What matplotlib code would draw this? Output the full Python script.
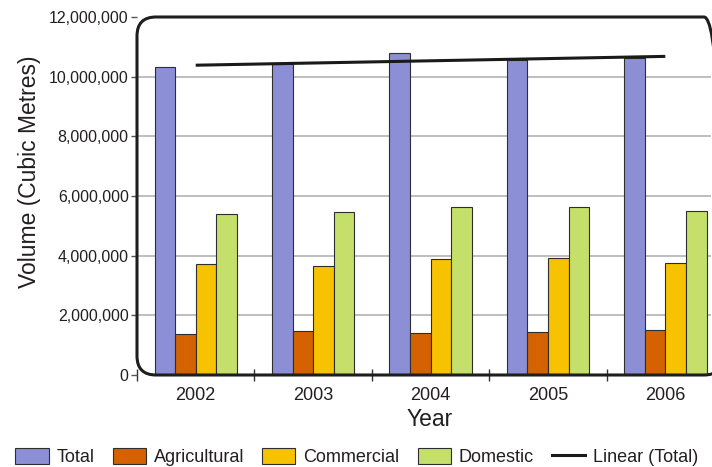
import numpy as np
import matplotlib
matplotlib.use('Agg')
import matplotlib.pyplot as plt
from matplotlib.patches import FancyBboxPatch, Patch
from matplotlib.lines import Line2D
from matplotlib.ticker import FuncFormatter

# ── water use by sector, cubic metres ────────────────────────────────────────
years        = ['2002', '2003', '2004', '2005', '2006']
total        = [10_310_000, 10_410_000, 10_780_000, 10_550_000, 10_610_000]
agricultural = [1_370_000, 1_460_000, 1_420_000, 1_440_000, 1_510_000]
commercial   = [3_710_000, 3_650_000, 3_880_000, 3_910_000, 3_760_000]
domestic     = [5_390_000, 5_470_000, 5_630_000, 5_640_000, 5_500_000]
series_names = ['Total', 'Agricultural', 'Commercial', 'Domestic']
y_ticks      = [0, 2_000_000, 4_000_000, 6_000_000, 8_000_000, 10_000_000, 12_000_000]

colors   = ['#8c8fd6', '#d46200', '#f7c200', '#c4df6a']
TEXT     = '#231f20'
BASE     = ['Liberation Sans', 'DejaVu Sans']

plt.rcParams['font.family'] = BASE

DPI = 100
fig = plt.figure(figsize=(7.12, 4.67), dpi=DPI)
W, H = 712, 467

# plot area in pixels: left 137, right 711, bottom 375, top 17
ax = fig.add_axes([137 / W, 92 / H, 574 / W, 358 / H])

group_px = 117.4
x = np.arange(len(years))
bar_w = 20.6 / group_px
offsets = (np.arange(4) - 1.5) * bar_w

for tick in y_ticks[1:-1]:
    ax.axhline(tick, color='#b3b3b3', lw=1.2, zorder=0)

for vals, off, col in zip([total, agricultural, commercial, domestic], offsets, colors):
    ax.bar(x + off, vals, width=bar_w, color=col, edgecolor='#2e2e2e',
           linewidth=0.8, zorder=2)

# linear trend through the totals
slope, intercept = np.polyfit(x, total, 1)
ax.plot(x, slope * x + intercept, color='#1a1a1a', lw=2.2, zorder=3,
        solid_capstyle='butt')

ax.set_xlim(-0.5, -0.5 + 574 / group_px)
ax.set_ylim(y_ticks[0], y_ticks[-1])
for s in ax.spines.values():
    s.set_visible(False)

ax.set_yticks(y_ticks)
ax.yaxis.set_major_formatter(FuncFormatter(lambda v, _: f'{int(v):,}'))
ax.tick_params(axis='y', length=4, width=1, color='#555555', pad=2,
               labelsize=11.5, labelcolor=TEXT)

ax.set_xticks(x)
ax.set_xticklabels(years)
ax.set_xticks(np.arange(len(years)) - 0.5, minor=True)
ax.tick_params(axis='x', which='major', length=0, pad=9, labelsize=13,
               labelcolor=TEXT)
ax.tick_params(axis='x', which='minor', direction='inout', length=9,
               width=1, color='#333333')

# rounded frame around the plot area (right side runs off the canvas)
frame = FancyBboxPatch((1.37, 0.92), 5.86, 3.58,
                       boxstyle='round,pad=0,rounding_size=0.19',
                       transform=fig.dpi_scale_trans, fill=False,
                       lw=2.2, ec='#1e1e1e', clip_on=False, zorder=5)
fig.add_artist(frame)

fig.text(430 / W, (H - 419) / H, 'Year', ha='center', va='center',
         fontsize=16.5, color=TEXT)
fig.text(30 / W, (H - 172) / H, 'Volume (Cubic Metres)', ha='center',
         va='center', rotation=90, fontsize=16.5, color=TEXT)

handles = [Patch(facecolor=c, edgecolor='#2e2e2e', linewidth=0.8) for c in colors]
handles.append(Line2D([], [], color='#1a1a1a', lw=2.2))
labels = series_names + ['Linear (Total)']
fig.legend(handles, labels, loc='center', ncol=5, frameon=False,
           bbox_to_anchor=(357 / W, (H - 457) / H), fontsize=13,
           handlelength=1.83, handleheight=1.0, handletextpad=0.45,
           columnspacing=1.0, labelcolor=TEXT, borderpad=0)

fig.savefig('out.png', dpi=DPI)
